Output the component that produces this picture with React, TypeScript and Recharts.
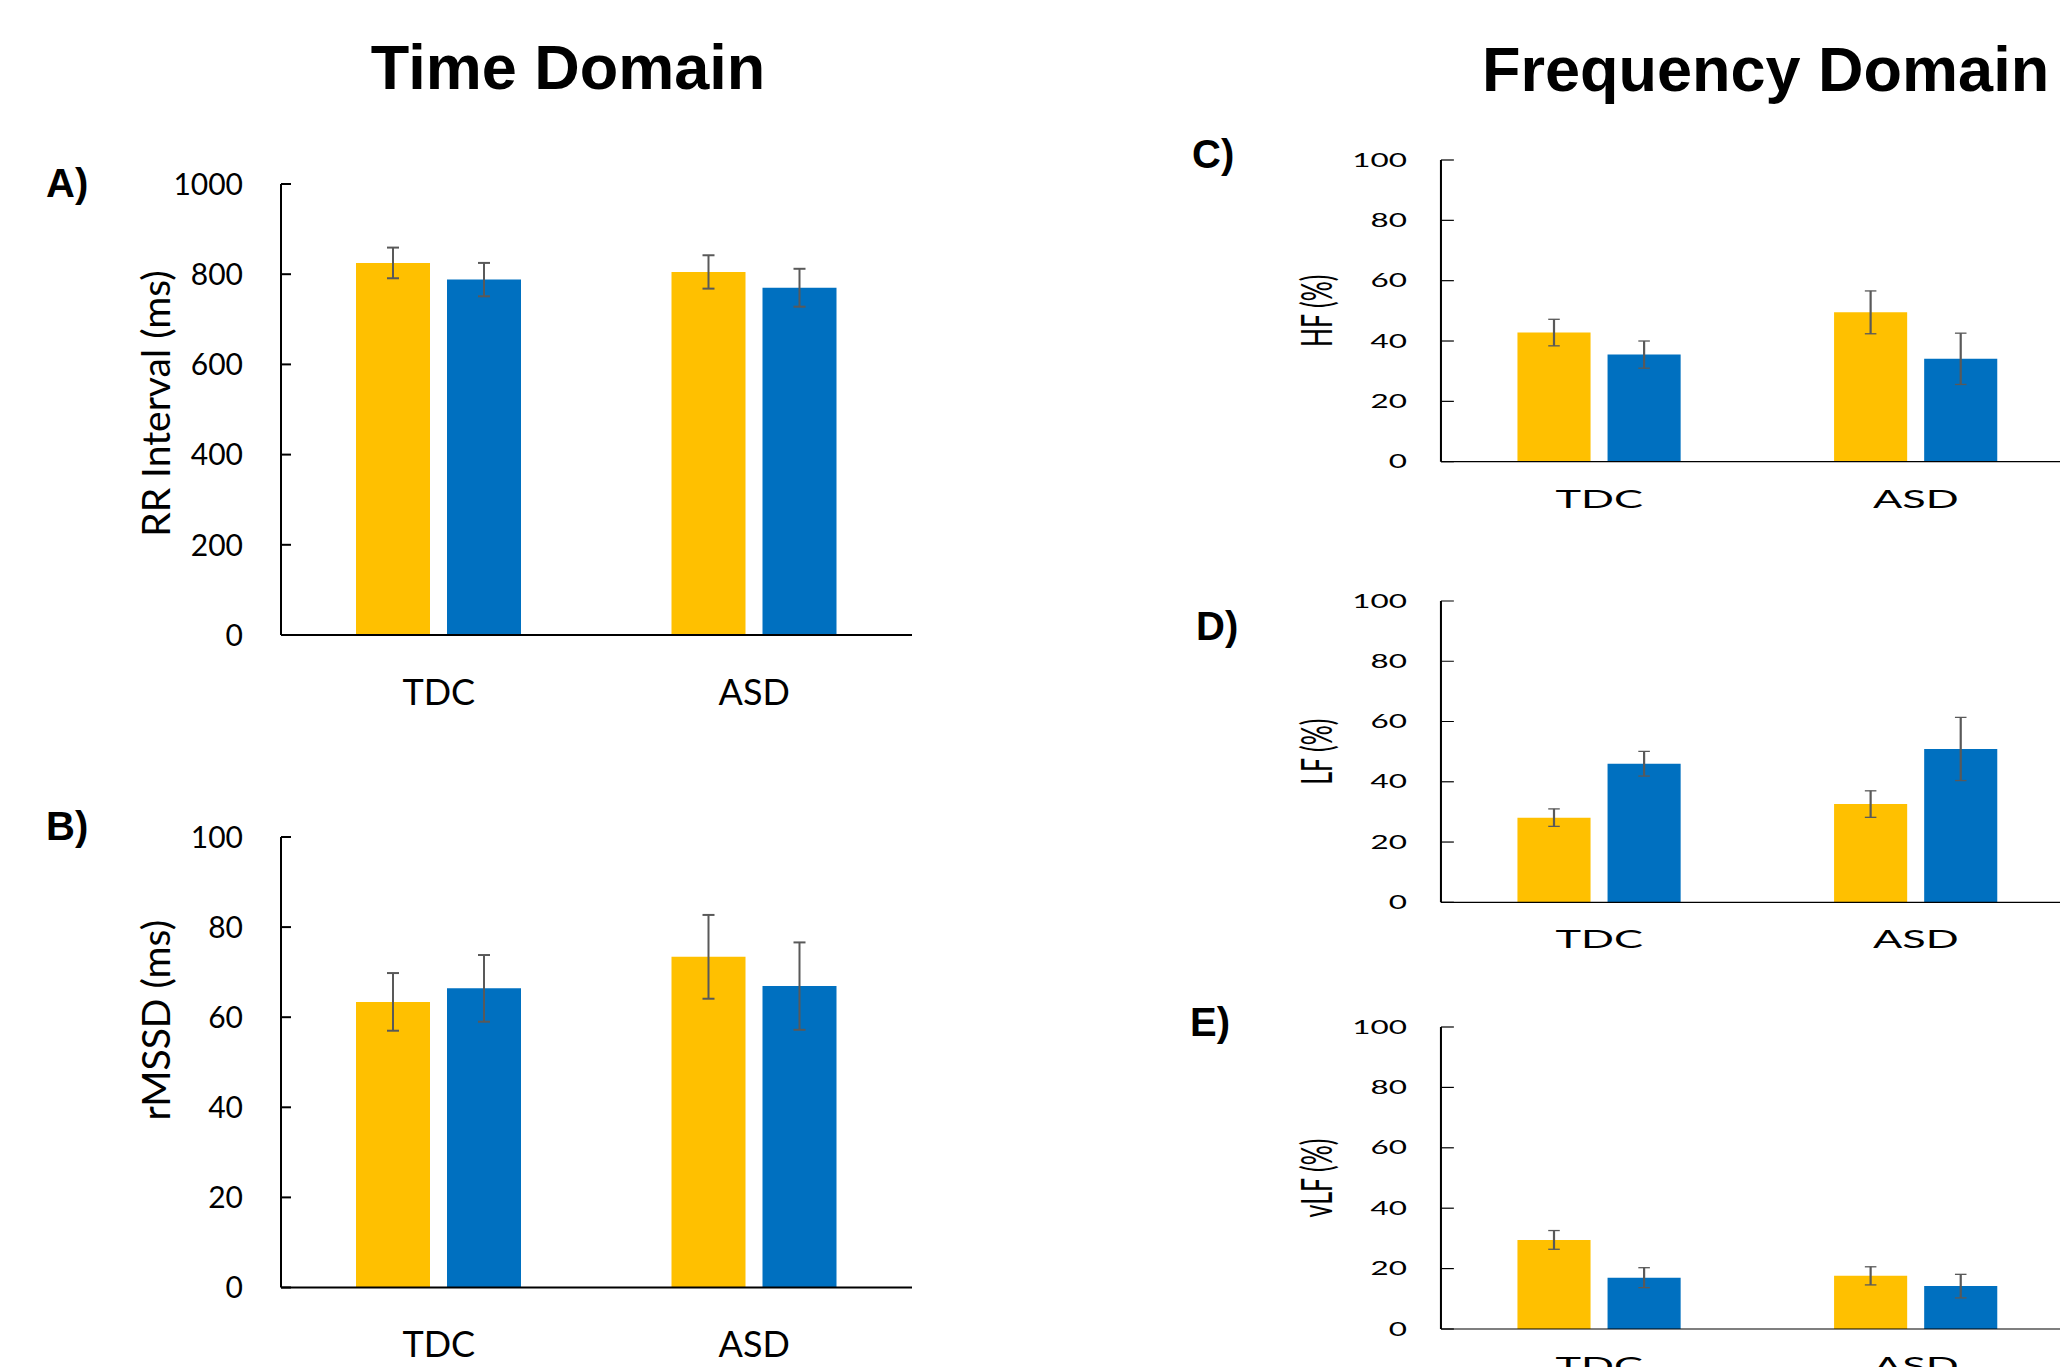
import React from 'react';
import { BarChart, Bar, XAxis, YAxis, ErrorBar } from 'recharts';

// categories
const groups = ['TDC', 'ASD'];

// A) RR interval (ms)
const rrYellow = [825, 805];
const rrYellowErr = [34, 37];
const rrBlue = [788, 770];
const rrBlueErr = [37, 42];

// B) rMSSD (ms)
const rmssdYellow = [63.4, 73.4];
const rmssdYellowErr = [6.4, 9.3];
const rmssdBlue = [66.4, 66.9];
const rmssdBlueErr = [7.4, 9.7];

// C) HF (%)
const hfYellow = [42.8, 49.5];
const hfYellowErr = [4.4, 7.1];
const hfBlue = [35.5, 34.1];
const hfBlueErr = [4.5, 8.5];

// D) LF (%)
const lfYellow = [28.1, 32.6];
const lfYellowErr = [2.9, 4.4];
const lfBlue = [46.0, 50.9];
const lfBlueErr = [4.1, 10.5];

// E) vLF (%)
const vlfYellow = [29.5, 17.6];
const vlfYellowErr = [3.1, 3.0];
const vlfBlue = [17.0, 14.2];
const vlfBlueErr = [3.3, 3.9];

const rrTicks = [0, 200, 400, 600, 800, 1000];
const pctTicks = [0, 20, 40, 60, 80, 100];

const YELLOW = '#FFC000';
const BLUE = '#0070C0';
const ERR = '#595959';
const FONT = 'Lato, "Noto Sans", sans-serif';

const rows = (y: number[], ye: number[], b: number[], be: number[]) =>
  groups.map((g, i) => ({ group: g, yellow: y[i], yellowErr: ye[i], blue: b[i], blueErr: be[i] }));

const makeYTick = (fontSize: number, len: number, gap: number, sw: number) => (props: any) => {
  const { x, y, payload } = props;
  const axisX = x + gap;
  return (
    <g>
      <line x1={axisX} x2={axisX + len} y1={y} y2={y} stroke="#000" strokeWidth={sw} />
      <text x={x} y={y} dy="0.36em" textAnchor="end" fontSize={fontSize} fontFamily={FONT} fill="#000">
        {payload.value}
      </text>
    </g>
  );
};

const makeYLabel = (text: string, cx: number, dy: number, fontSize: number) => (props: any) => {
  const vb = props.viewBox;
  const cy = vb.y + vb.height / 2 + dy;
  return (
    <text
      x={cx}
      y={cy}
      transform={`rotate(-90 ${cx} ${cy})`}
      textAnchor="middle"
      dominantBaseline="central"
      fontSize={fontSize}
      fontFamily={FONT}
      fill="#000"
    >
      {text}
    </text>
  );
};

type PanelProps = {
  data: any[];
  ticks: number[];
  label: string;
  plotTop: number;
  plotBottom: number;
  width: number;
  marginLeft: number;
  axisWidth: number;
  labelX: number;
  labelDy: number;
  labelSize: number;
  tickSize: number;
  catSize: number;
  catMargin: number;
  tickGap: number;
  tickLen: number;
  lineW: number;
  barSize: number;
  barGap: number;
  errW: number;
  errStroke: number;
};

function Panel(p: PanelProps) {
  const padTop = 40;
  const xh = 80;
  const plotH = p.plotBottom - p.plotTop;
  const height = padTop + plotH + xh + 10;
  return (
    <div style={{ position: 'absolute', left: 0, top: p.plotTop - padTop }}>
      <BarChart
        width={p.width}
        height={height}
        data={p.data}
        margin={{ top: padTop, right: 0, bottom: 10, left: p.marginLeft }}
        barGap={p.barGap}
      >
        <XAxis
          dataKey="group"
          height={xh}
          tickLine={false}
          tickSize={0}
          tickMargin={p.catMargin}
          axisLine={{ stroke: '#000', strokeWidth: p.lineW }}
          tick={{ fontSize: p.catSize, fill: '#000', fontFamily: FONT }}
          interval={0}
        />
        <YAxis
          width={p.axisWidth}
          domain={[p.ticks[0], p.ticks[p.ticks.length - 1]]}
          ticks={p.ticks}
          interval={0}
          tickLine={false}
          tickSize={0}
          tickMargin={p.tickGap}
          axisLine={{ stroke: '#000', strokeWidth: p.lineW }}
          tick={makeYTick(p.tickSize, p.tickLen, p.tickGap, p.lineW)}
          label={{ content: makeYLabel(p.label, p.labelX, p.labelDy, p.labelSize) }}
        />
        <Bar dataKey="yellow" fill={YELLOW} barSize={p.barSize} isAnimationActive={false}>
          <ErrorBar dataKey="yellowErr" width={p.errW} stroke={ERR} strokeWidth={p.errStroke} isAnimationActive={false} />
        </Bar>
        <Bar dataKey="blue" fill={BLUE} barSize={p.barSize} isAnimationActive={false}>
          <ErrorBar dataKey="blueErr" width={p.errW} stroke={ERR} strokeWidth={p.errStroke} isAnimationActive={false} />
        </Bar>
      </BarChart>
    </div>
  );
}

const leftCommon = {
  width: 912,
  marginLeft: 81,
  axisWidth: 200,
  labelX: 155,
  labelSize: 39,
  tickSize: 30,
  catSize: 36,
  catMargin: 44,
  tickGap: 38,
  tickLen: 10,
  lineW: 2,
  barSize: 74,
  barGap: 17,
  errW: 6,
  errStroke: 2,
};

const rightCommon = {
  width: 526,
  marginLeft: 3.5,
  axisWidth: 150,
  labelX: 80,
  labelDy: 0,
  labelSize: 25,
  tickSize: 18.5,
  catSize: 25.5,
  catMargin: 28,
  tickGap: 20,
  tickLen: 7.6,
  lineW: 1.2,
  barSize: 43,
  barGap: 10,
  errW: 3.4,
  errStroke: 1.3,
};

const panelLabel = { fontFamily: '"Liberation Sans", Arial, sans-serif', fontWeight: 700, fontSize: 40 } as const;
const titleStyle = { fontFamily: '"Liberation Sans", Arial, sans-serif', fontWeight: 700, fontSize: 63 } as const;

export default function App() {
  return (
    <div style={{ position: 'absolute', left: 0, top: 0, width: 2060, height: 1367, overflow: 'hidden', background: '#fff' }}>
      <Panel {...leftCommon} data={rows(rrYellow, rrYellowErr, rrBlue, rrBlueErr)} ticks={rrTicks}
        label="RR Interval (ms)" plotTop={184} plotBottom={635} labelDy={-6} />
      <Panel {...leftCommon} data={rows(rmssdYellow, rmssdYellowErr, rmssdBlue, rmssdBlueErr)} ticks={pctTicks}
        label="rMSSD (ms)" plotTop={837} plotBottom={1287.5} labelDy={-42} />

      <div style={{ position: 'absolute', left: 1180, top: 0, width: 526, height: 1367, transform: 'scaleX(1.7)', transformOrigin: '0 0' }}>
        <Panel {...rightCommon} data={rows(hfYellow, hfYellowErr, hfBlue, hfBlueErr)} ticks={pctTicks}
          label="HF (%)" plotTop={160} plotBottom={461.7} />
        <Panel {...rightCommon} data={rows(lfYellow, lfYellowErr, lfBlue, lfBlueErr)} ticks={pctTicks}
          label="LF (%)" plotTop={600.7} plotBottom={902} />
        <Panel {...rightCommon} data={rows(vlfYellow, vlfYellowErr, vlfBlue, vlfBlueErr)} ticks={pctTicks}
          label="vLF (%)" plotTop={1027} plotBottom={1329} />
      </div>

      <svg width={2060} height={1367} style={{ position: 'absolute', left: 0, top: 0, pointerEvents: 'none' }}>
        <text x={568} y={89} textAnchor="middle" style={titleStyle}>Time Domain</text>
        <text x={1482} y={91} textAnchor="start" style={titleStyle}>Frequency Domain</text>
        <text x={46} y={197} style={panelLabel}>A)</text>
        <text x={46} y={840} style={panelLabel}>B)</text>
        <text x={1192} y={168} style={panelLabel}>C)</text>
        <text x={1196} y={640} style={panelLabel}>D)</text>
        <text x={1190} y={1036} style={panelLabel}>E)</text>
      </svg>
    </div>
  );
}
